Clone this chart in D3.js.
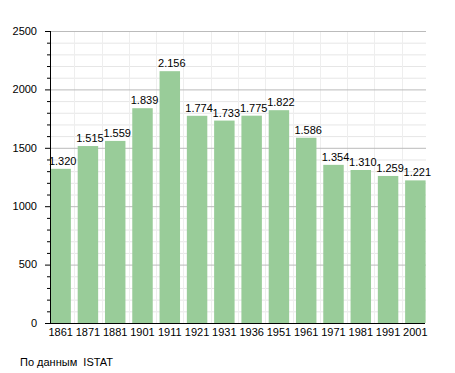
<!DOCTYPE html>
<html><head><meta charset="utf-8">
<script src="https://cdn.jsdelivr.net/npm/d3@7"></script>
<style>body{margin:0;background:#fff}svg{display:block}</style>
</head><body>
<script>
const years = ["1861","1871","1881","1901","1911","1921","1931","1936","1951","1961","1971","1981","1991","2001"];
const population = [1320,1515,1559,1839,2156,1774,1733,1775,1822,1586,1354,1310,1259,1221];
const majorTicks = [0,500,1000,1500,2000,2500];
const minorTicks = d3.range(0,2501,100);
const sourceNote = "По данным  ISTAT";

const W=455,H=373;
const svg=d3.select("body").append("svg").attr("width",W).attr("height",H);
const font="Liberation Sans, Arial, sans-serif";
const x=d3.scaleBand().domain(years).range([47,429]).paddingInner(0.25).paddingOuter(0.125);
const y=d3.scaleLinear().domain([0,2500]).range([323,31]);
const L=50,R=426;

// minor gridlines
svg.append("g").selectAll("line").data(minorTicks.filter(d=>d%500!==0)).join("line")
 .attr("x1",L).attr("x2",R).attr("y1",d=>y(d)+0.5).attr("y2",d=>y(d)+0.5)
 .attr("stroke","#e6e6e6").attr("stroke-width",1);
// vertical faint lines
svg.append("g").selectAll("line").data(years.slice(1)).join("line")
 .attr("x1",d=>Math.round(x(d)-x.step()*x.paddingInner()/2)+0.5).attr("x2",d=>Math.round(x(d)-x.step()*x.paddingInner()/2)+0.5)
 .attr("y1",y(2500)).attr("y2",y(0))
 .attr("stroke","#eeeeee").attr("stroke-width",1);
// major gridlines
svg.append("g").selectAll("line").data(majorTicks.filter(d=>d>0)).join("line")
 .attr("x1",L).attr("x2",R).attr("y1",d=>y(d)+0.5).attr("y2",d=>y(d)+0.5)
 .attr("stroke","#bbbbbb").attr("stroke-width",1);

// bars
svg.append("g").selectAll("rect").data(years).join("rect")
 .attr("x",d=>x(d)).attr("width",x.bandwidth())
 .attr("y",(d,i)=>y(population[i])).attr("height",(d,i)=>y(0)-y(population[i]))
 .attr("fill","#99cc99");

const fmt=d3.formatLocale({decimal:",",thousands:".",grouping:[3],currency:["",""]}).format(",d");
svg.append("g").selectAll("text").data(years).join("text")
 .attr("x",d=>x(d)+x.bandwidth()/2+2).attr("y",(d,i)=>y(population[i])-4)
 .attr("text-anchor","middle").attr("font-family",font).attr("font-size",11).attr("fill","#000")
 .text((d,i)=>fmt(population[i]));

// y axis
const ya=svg.append("g").attr("transform",`translate(${L},0)`);
ya.append("line").attr("x1",0.5).attr("x2",0.5).attr("y1",y(2500)).attr("y2",y(0)+1).attr("stroke","#000");
ya.selectAll("line.t").data(minorTicks).join("line").attr("class","t")
 .attr("x1",d=>d%500===0?-5:-3).attr("x2",0).attr("y1",d=>y(d)+0.5).attr("y2",d=>y(d)+0.5).attr("stroke","#000");
ya.selectAll("text").data(majorTicks).join("text")
 .attr("x",-13).attr("y",d=>y(d)).attr("dy","0.35em").attr("text-anchor","end")
 .attr("font-family",font).attr("font-size",11).attr("fill","#000").text(d=>d);

// x axis baseline
svg.append("line").attr("x1",L).attr("x2",R-1).attr("y1",y(0)+0.5).attr("y2",y(0)+0.5).attr("stroke","#000");
svg.append("g").selectAll("text").data(years).join("text")
 .attr("x",d=>x(d)+x.bandwidth()/2).attr("y",y(0)+13)
 .attr("text-anchor","middle").attr("font-family",font).attr("font-size",11).attr("fill","#000").text(d=>d);

svg.append("text").attr("x",20).attr("y",366).attr("font-family",font).attr("font-size",11)
 .attr("xml:space","preserve").style("white-space","pre").text(sourceNote);
</script>
</body></html>
